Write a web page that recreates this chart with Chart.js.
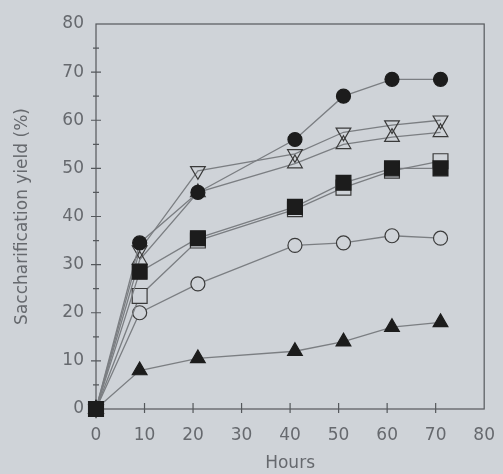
<!DOCTYPE html>
<html>
<head>
<meta charset="utf-8">
<script src="https://cdn.jsdelivr.net/npm/chart.js@4/dist/chart.umd.min.js"></script>
<style>
  html, body { margin: 0; padding: 0; background: #cfd3d8; }
  #wrap { position: relative; width: 503px; height: 474px; }
</style>
</head>
<body>
<div id="wrap"><canvas id="grafica"></canvas></div>
<script>
// Horas de muestreo y rendimiento de sacarificacion (%) por tratamiento
var horas = [0, 9, 21, 41, 51, 61, 71];
var circuloLleno    = [0, 34.5, 45, 56, 65, 68.5, 68.5];
var trianguloAbajo  = [0, 33, 49.5, 53, 57.5, 59, 60];
var trianguloArriba = [0, 31, 45, 51, 55, 56.5, 57.5];
var cuadroLleno     = [0, 28.5, 35.5, 42, 47, 50, 50];
var cuadroAbierto   = [0, 23.5, 35, 41.5, 46, 49.5, 51.5];
var circuloAbierto  = [0, 20, 26, 34, 34.5, 36, 35.5];
var trianguloLleno  = [0, 8, 10.5, 12, 14, 17, 18];

var ticksX = [0, 10, 20, 30, 40, 50, 60, 70, 80];
var ticksY = [0, 5, 10, 15, 20, 25, 30, 35, 40, 45, 50, 55, 60, 65, 70, 75, 80];

var FONDO = "#cfd3d8", TINTA = "#1c1c1c", LINEA = "#7b7e82", TEXTO = "#66696e", EJE = "#55585c";
var fuente = "DejaVu Sans";

function pares(vals) {
  return horas.map(function(h, i) { return { x: h, y: vals[i] }; });
}

function serie(vals, estilo, radio, lleno, rot) {
  return {
    data: pares(vals),
    showLine: true,
    borderColor: LINEA,
    borderWidth: 1.3,
    pointStyle: estilo,
    pointRadius: radio,
    pointHoverRadius: radio,
    pointRotation: rot || 0,
    pointBackgroundColor: lleno === true ? TINTA : lleno,
    pointBorderColor: lleno === true ? TINTA : "#3a3a3a",
    pointBorderWidth: 1.2,
    clip: false
  };
}

// marco del area + marcas que cruzan los ejes
var marco = {
  id: "marco",
  beforeDatasetsDraw: function(chart) {
    var a = chart.chartArea, ctx = chart.ctx, sx = chart.scales.x, sy = chart.scales.y;
    ctx.save();
    ctx.strokeStyle = EJE;
    ctx.lineWidth = 1.2;
    ctx.strokeRect(a.left, a.top, a.right - a.left, a.bottom - a.top);
    ctx.beginPath();
    sx.ticks.forEach(function(t) {
      var px = sx.getPixelForValue(t.value);
      if (t.value === 0 || t.value === 80) return;
      ctx.moveTo(px, a.bottom - 6); ctx.lineTo(px, a.bottom + 4);
    });
    sy.ticks.forEach(function(t) {
      var py = sy.getPixelForValue(t.value);
      if (t.value === 0 || t.value === 80) return;
      var l = t.value % 10 === 0 ? 5 : 3;
      ctx.moveTo(a.left - l, py); ctx.lineTo(a.left + l, py);
    });
    ctx.stroke();
    ctx.restore();
  }
};

new Chart(document.getElementById("grafica"), {
  type: "scatter",
  data: {
    datasets: [
      serie(cuadroLleno, "rect", 10.5, true),
      serie(circuloLleno, "circle", 7, true),
      serie(trianguloLleno, "triangle", 8.5, true),
      serie(cuadroAbierto, "rect", 10.5, FONDO),
      serie(circuloAbierto, "circle", 7, FONDO),
      serie(trianguloArriba, "triangle", 8.5, "rgba(0,0,0,0)"),
      serie(trianguloAbajo, "triangle", 8.5, "rgba(0,0,0,0)", 180)
    ]
  },
  options: {
    responsive: true,
    maintainAspectRatio: false,
    animation: false,
    layout: { padding: { top: 24, right: 0, left: 0, bottom: 0 } },
    plugins: { legend: { display: false }, tooltip: { enabled: false } },
    scales: {
      x: {
        type: "linear", min: 0, max: 80,
        afterBuildTicks: function(s) { s.ticks = ticksX.map(function(v) { return { value: v }; }); },
        afterFit: function(s) { s.height = 65; },
        grid: { display: false },
        border: { display: false },
        ticks: { color: TEXTO, padding: 8, maxRotation: 0, font: { family: fuente, size: 17 } },
        title: { display: true, text: "Hours", color: TEXTO, padding: 0, font: { family: fuente, size: 17 } }
      },
      y: {
        type: "linear", min: 0, max: 80,
        afterBuildTicks: function(s) { s.ticks = ticksY.map(function(v) { return { value: v }; }); },
        afterFit: function(s) { s.width = 96; },
        grid: { display: false },
        border: { display: false },
        ticks: {
          color: TEXTO, padding: 4, font: { family: fuente, size: 17 },
          callback: function(v) { return v % 10 === 0 ? String(v) : ""; }
        },
        title: { display: true, text: "Saccharification yield (%)", color: TEXTO, padding: { top: 12, bottom: 0 }, font: { family: fuente, size: 17 } }
      }
    }
  },
  plugins: [marco]
});
</script>
</body>
</html>
